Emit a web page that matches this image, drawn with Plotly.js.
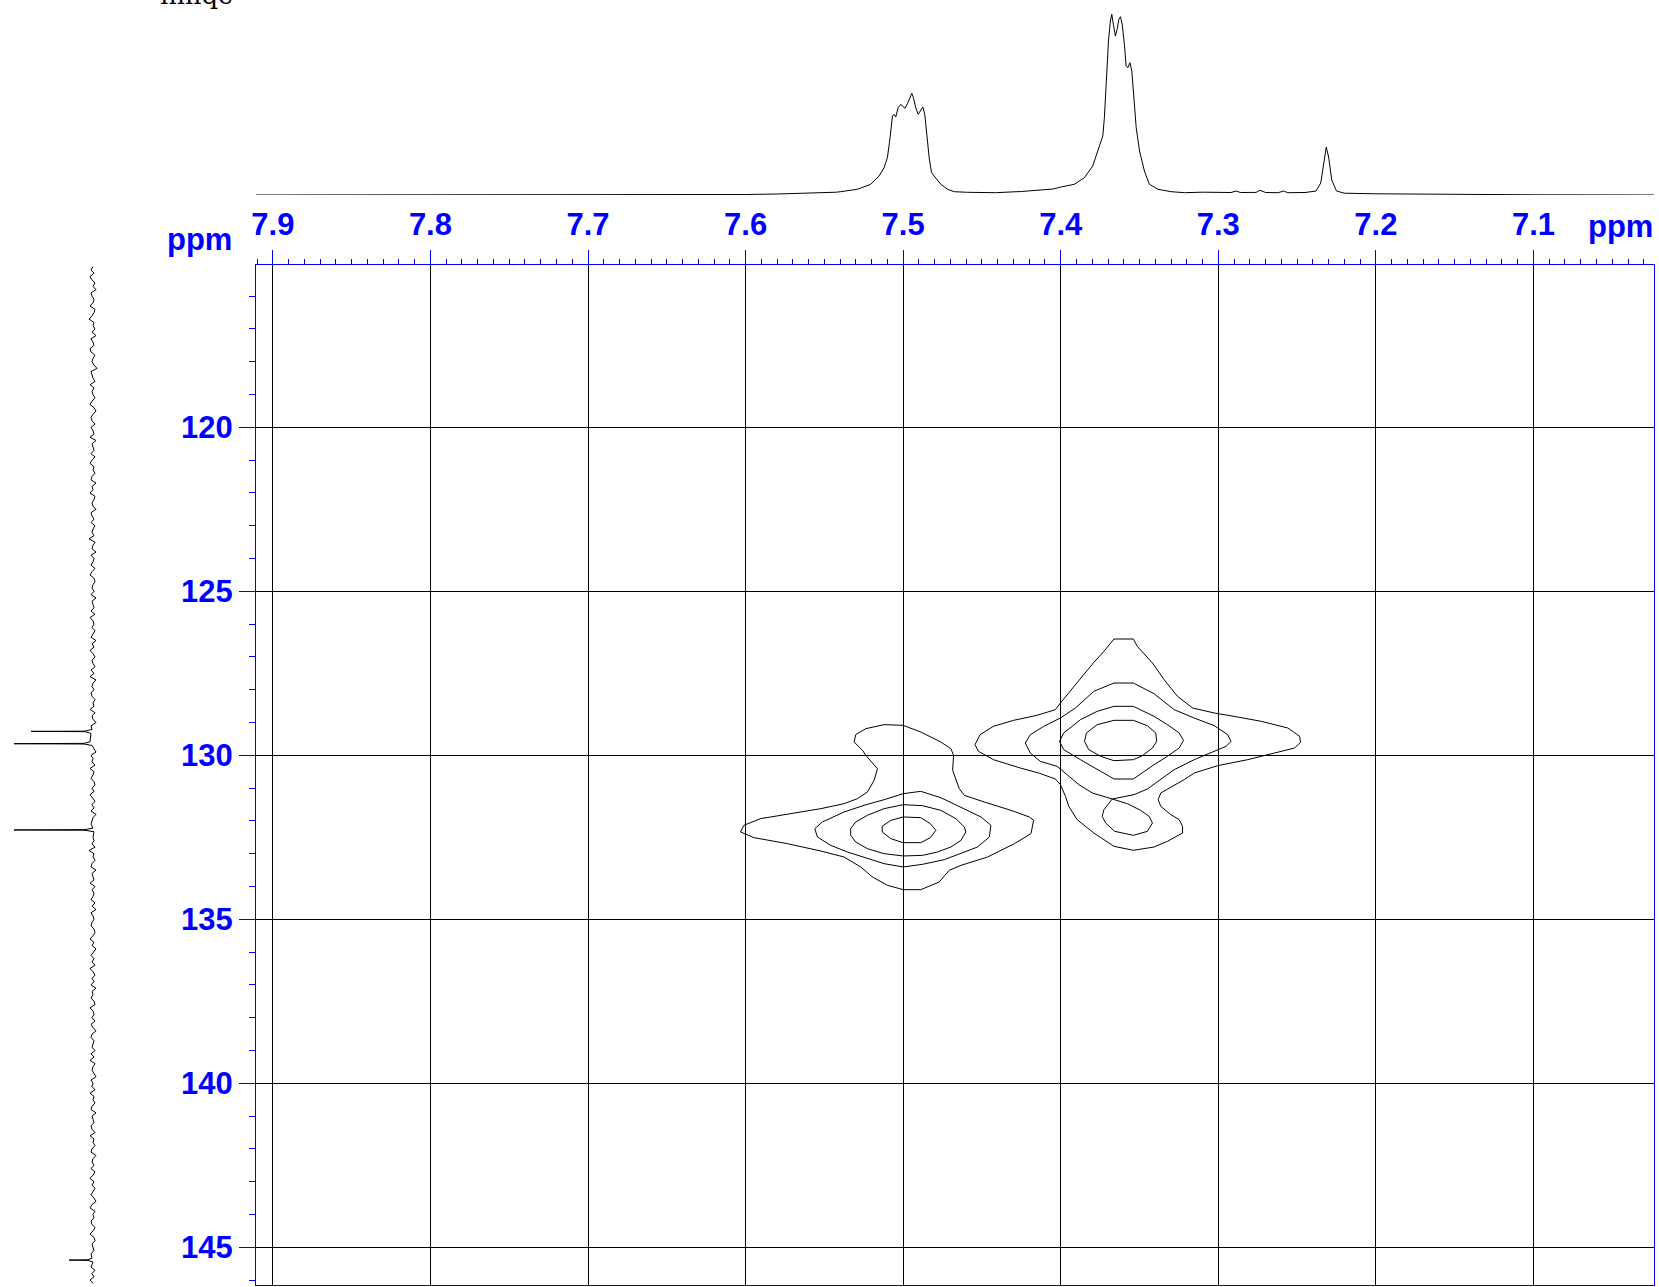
<!DOCTYPE html>
<html><head><meta charset="utf-8">
<script src="https://cdn.plot.ly/plotly-3.0.1.min.js"></script>
<style>html,body{margin:0;padding:0;background:#fff;overflow:hidden}</style>
</head><body><div id="chart" style="width:1659px;height:1287px"></div>
<script>
// ---- 1H projection (top): chemical shift (ppm) and intensity ----
const hPpm = [7.9107,7.85,7.71,7.65,7.60,7.58,7.5624,7.5423,7.5397,7.5291,7.5206,7.5153,7.5121,7.5100,7.5083,7.5068,7.5058,7.5047,7.5032,7.5015,7.5005,7.4988,7.4973,7.4958,7.4945,7.4935,7.4920,7.4905,7.4888,7.4875,7.4863,7.4850,7.4835,7.4820,7.4793,7.4761,7.4718,7.4676,7.4591,7.4507,7.4414,7.4250,7.4144,7.4050,7.3998,7.3914,7.3850,7.3797,7.3765,7.3733,7.3723,7.3712,7.3697,7.3685,7.3676,7.3666,7.3653,7.3642,7.3631,7.3621,7.3610,7.3596,7.3585,7.3574,7.3561,7.3549,7.3536,7.3521,7.3500,7.3469,7.3437,7.3383,7.3299,7.3214,7.31,7.30,7.292,7.2886,7.286,7.276,7.2736,7.27,7.262,7.2586,7.256,7.245,7.238,7.235,7.233,7.2315,7.230,7.228,7.225,7.22,7.20,7.15,7.10,7.0235];
const hInt = [-1,-1,-1,-0.8,-0.5,0,0.5,1.8,2.3,4.7,9.7,18,26.3,36.3,56.3,78,79.7,77,86.3,89.7,88,85.7,90.3,96.3,100.7,96.3,86.3,79.7,84.7,87,79.7,59.7,36.3,21.3,16.3,9.7,4.7,2.3,1.7,1.3,1.3,2.5,3.6,5,7,9.7,16.3,28,43,58,76.3,109.7,153,173,179.7,169.7,158,164.7,174.7,177.3,169.7,149.7,128,126.3,131.3,123,96.3,66.3,43,23,9.7,4.7,2.3,1.3,1.8,1.5,1.5,3,1.5,1.6,3.7,1.5,1.3,3,1.3,1.5,3,11,34,47,37,14,3,0.8,0.2,-0.4,-0.8,-1];

// ---- 13C projection (left): baseline noise on a regular ppm grid, plus peaks ----
const c13Start = 115.1, c13Step = 0.1;
const c13Noise = [0,2,-1,3,1,-2,0,-3,2,1,-1,0,3,-2,-1,1,4,-1,0,-2,
1,-3,2,0,-1,3,2,-2,0,1,-1,-4,2,1,0,-2,3,-1,1,0,
-2,1,3,-1,-3,0,2,1,-2,2,0,-1,3,-3,1,0,-1,2,-2,1,
3,-1,0,-2,1,2,-3,1,0,3,-2,-1,1,0,-3,2,1,-1,2,-2,
0,1,-1,4,-2,0,1,-3,2,-1,0,2,-2,1,3,-1,-2,0,1,-1,
2,-3,1,0,-1,2,-2,3,0,-1,1,-2,0,2,-3,1,-1,3,0,-2,
1,0,-2,2,-1,3,-3,0,1,-1,2,1,-2,0,-1,3,-2,1,0,-3,
2,1,-1,0,3,-2,1,-1,-3,2,0,1,-2,3,-1,0,2,-1,-2,1,
-1,3,0,-2,1,-1,2,-3,0,1,2,-2,-1,3,0,-1,1,-2,4,-1,
0,-2,1,2,-3,1,0,-1,3,-2,1,-1,0,2,-2,1,-3,2,0,-1,
1,2,-1,-2,0,3,-1,1,-3,0,2,-1,1,-2,3,0,-2,1,-1,2,
-3,1,0,2,-1,-2,3,0,-1,1,-2,2,0,-3,1,2,-1,0,1,-2,
2,-1,3,-2,0,1,-1,-3,2,0,1,-2,3,-1,0,-2,1,2,-3,1,
0,-1,2,1,-2,3,-1,0,-2,1,2,-3,0,1,-1,2,-2,0,3,-1,
1,-2,0,2,-1,-3,1,3,-2,0,-1,2,1,-2,0,3,-1,-2,1,0,
-1,2,-3,1,0,2,-2,1,-1,3,0];
const c13PeakPpm = [129.21,129.262,129.27,129.278,129.33, 129.59,129.635,129.645,129.655,129.70, 132.22,132.265,132.275,132.285,132.33, 145.33,145.38,145.39,145.40,145.45];
const c13PeakInt = [1,8,62,8,2, 3,9,79,9,1, 0,8,79,8,-1, 1,5,24,5,0];

// ---- 2D contours (x = 1H ppm, y = 13C ppm) ----
const peakA1H = [7.5000,7.5121,7.5237,7.5301,7.5311,7.5258,7.5237,7.5163,7.5184,7.5227,7.5290,7.5375,7.5523,7.5735,7.5905,7.6011,7.6032,7.5947,7.5735,7.5523,7.5375,7.5269,7.5195,7.5100,7.5000,7.4888,7.4771,7.4708,7.4633,7.4464,7.4294,7.4189,7.4172,7.4199,7.4316,7.4485,7.4612,7.4644,7.4686,7.4680,7.4697,7.4761,7.4888,7.5000];
const peakA1C = [129.085,129.065,129.187,129.370,129.593,129.848,130.0,130.407,130.762,131.118,131.321,131.474,131.626,131.799,131.931,132.134,132.337,132.510,132.693,132.917,133.100,133.404,133.709,133.963,134.096,134.096,133.862,133.506,133.354,133.100,132.693,132.388,131.982,131.880,131.677,131.423,131.220,131.016,130.457,130.0,129.797,129.593,129.289,129.085];
const peakA2H = [7.5000,7.4888,7.4761,7.4633,7.4506,7.4443,7.4453,7.4528,7.4633,7.4739,7.4877,7.5000,7.5121,7.5248,7.5354,7.5460,7.5544,7.5561,7.5513,7.5375,7.5248,7.5121,7.5000];
const peakA2C = [131.169,131.098,131.291,131.575,131.880,132.134,132.490,132.795,132.998,133.181,133.323,133.404,133.303,133.100,132.947,132.744,132.490,132.236,132.033,131.728,131.524,131.352,131.169];
const peakA3H = [7.5000,7.4877,7.4761,7.4665,7.4612,7.4602,7.4633,7.4697,7.4782,7.4877,7.5000,7.5121,7.5227,7.5301,7.5333,7.5333,7.5301,7.5227,7.5121,7.5000];
const peakA3C = [131.504,131.535,131.677,131.931,132.185,132.337,132.591,132.795,132.947,133.049,133.069,132.998,132.846,132.642,132.439,132.236,132.033,131.829,131.626,131.504];
const peakA4H = [7.5000,7.4888,7.4828,7.4792,7.4828,7.4888,7.5000,7.5078,7.5133,7.5133,7.5078,7.5000];
const peakA4C = [131.880,131.900,132.083,132.287,132.510,132.663,132.663,132.541,132.337,132.165,131.982,131.880];

const peakB1H = [7.3662,7.3539,7.3514,7.3418,7.3344,7.3259,7.3163,7.3025,7.2877,7.2728,7.2558,7.2484,7.2478,7.2516,7.2643,7.2813,7.3004,7.3153,7.3217,7.3365,7.3382,7.3365,7.3301,7.3248,7.3227,7.3227,7.3323,7.3408,7.3539,7.3662,7.3790,7.3896,7.3949,7.3970,7.4002,7.4034,7.4140,7.4257,7.4427,7.4522,7.4544,7.4512,7.4427,7.4299,7.4151,7.4034,7.4002,7.3917,7.3790,7.3726,7.3662];
const peakB1C = [126.453,126.453,126.677,127.185,127.693,128.201,128.557,128.709,128.831,128.963,129.167,129.421,129.604,129.776,129.929,130.132,130.315,130.539,130.742,131.148,131.352,131.555,131.809,131.961,132.165,132.368,132.622,132.795,132.896,132.774,132.368,131.961,131.555,131.250,130.894,130.722,130.539,130.386,130.132,129.878,129.675,129.370,129.116,128.933,128.780,128.608,128.404,127.896,127.165,126.829,126.453];
const peakB2H = [7.3662,7.3539,7.3408,7.3280,7.3153,7.3025,7.2941,7.2919,7.2951,7.3025,7.3153,7.3280,7.3365,7.3450,7.3535,7.3673,7.3800,7.3885,7.3960,7.4023,7.4130,7.4193,7.4225,7.4193,7.4108,7.4002,7.3907,7.3790,7.3662];
const peakB2C = [127.795,127.795,128.120,128.608,128.862,129.096,129.370,129.573,129.726,129.878,130.132,130.437,130.742,131.026,131.199,131.331,131.148,130.894,130.589,130.335,130.183,129.929,129.624,129.370,129.116,128.862,128.557,128.049,127.795];
const peakB2bH = [7.3673,7.3577,7.3493,7.3439,7.3418,7.3450,7.3539,7.3658,7.3715,7.3737,7.3726,7.3673];
const peakB2bC = [131.331,131.474,131.677,131.860,132.063,132.317,132.439,132.317,132.063,131.860,131.657,131.331];
const peakB3H = [7.3662,7.3539,7.3408,7.3323,7.3248,7.3221,7.3248,7.3323,7.3408,7.3539,7.3662,7.3769,7.3875,7.3981,7.4008,7.3981,7.3875,7.3769,7.3662];
const peakB3C = [128.506,128.506,128.811,129.065,129.319,129.543,129.776,130.030,130.285,130.722,130.722,130.437,130.132,129.827,129.573,129.319,128.913,128.659,128.506];
const peakB4H = [7.3662,7.3539,7.3450,7.3397,7.3391,7.3418,7.3482,7.3539,7.3662,7.3747,7.3822,7.3849,7.3837,7.3769,7.3662];
const peakB4C = [128.933,128.933,129.096,129.319,129.573,129.776,130.010,130.132,130.163,130.030,129.827,129.573,129.319,129.065,128.933];

// axis tick settings
const xMajor = 0.1, xMinor = 0.01, yMajor = 5, yMinor = 1;
const xRange = [7.9107, 7.0235], yRange = [146.15, 115.034];

// ---------------- build ----------------
const BLUE = '#0000ff';
const LBL = {family:'"Liberation Sans", Arial, Helvetica, sans-serif', size:31, color:BLUE, weight:'bold'};
const PW = 1654, PH = 1285; // paper size (after margins)
const px = x => x / PW, py = y => (PH - y) / PH;

const traces = [];
const contourSets = [[peakA1H,peakA1C],[peakA2H,peakA2C],[peakA3H,peakA3C],[peakA4H,peakA4C],
  [peakB1H,peakB1C],[peakB2H,peakB2C],[peakB2bH,peakB2bC],[peakB3H,peakB3C],[peakB4H,peakB4C]];
contourSets.forEach(([h,c]) => traces.push({type:'scatter', mode:'lines', x:h, y:c, xaxis:'x', yaxis:'y',
  line:{color:'#000', width:1}, hoverinfo:'skip'}));

traces.push({type:'scatter', mode:'lines', x:hPpm, y:hInt, xaxis:'x2', yaxis:'y2',
  line:{color:'#000', width:1}, hoverinfo:'skip'});

// 13C trace: merge noise grid with peaks
let pts = [];
c13Noise.forEach((v,i) => {
  const p = c13Start + i * c13Step;
  if (!c13PeakPpm.some(q => Math.abs(q - p) < 0.07)) pts.push([p, v]);
});
c13PeakPpm.forEach((p,i) => pts.push([p, c13PeakInt[i]]));
pts.sort((a,b) => a[0] - b[0]);
traces.push({type:'scatter', mode:'lines', x:pts.map(d=>d[1]), y:pts.map(d=>d[0]), xaxis:'x3', yaxis:'y3',
  line:{color:'#000', width:1}, hoverinfo:'skip'});

const mainYDomain = [0, py(264.5)];
const layout = {
  width:1659, height:1287,
  margin:{l:0, r:5, t:0, b:2, pad:0},
  paper_bgcolor:'#ffffff', plot_bgcolor:'rgba(0,0,0,0)',
  showlegend:false,
  xaxis:{domain:[px(256),1], range:xRange, side:'top', anchor:'y',
    showline:true, linecolor:BLUE, linewidth:1, mirror:true,
    ticks:'outside', ticklen:14, tickcolor:BLUE, tickwidth:1, ticklabelstandoff:2,
    tick0:0, dtick:xMajor, tickformat:'.1f', tickfont:LBL,
    showgrid:true, gridcolor:'#000', gridwidth:1, zeroline:false,
    minor:{dtick:xMinor, ticks:'outside', ticklen:5, tickcolor:BLUE, tickwidth:1, showgrid:false},
    fixedrange:true},
  yaxis:{domain:mainYDomain, range:yRange, anchor:'x', side:'left',
    showline:true, linecolor:BLUE, linewidth:1, mirror:true,
    ticks:'outside', ticklen:16, tickcolor:BLUE, tickwidth:1,
    tick0:0, dtick:yMajor, tickfont:LBL,
    showgrid:true, gridcolor:'#000', gridwidth:1, zeroline:false,
    minor:{dtick:yMinor, ticks:'outside', ticklen:6, tickcolor:BLUE, tickwidth:1, showgrid:false},
    fixedrange:true},
  xaxis2:{domain:[px(256),1], range:xRange, anchor:'y2', visible:false, fixedrange:true},
  yaxis2:{domain:[py(195),1], range:[-1,194], anchor:'x2', visible:false, fixedrange:true},
  xaxis3:{domain:[0, px(105)], range:[93,-12], anchor:'y3', visible:false, fixedrange:true},
  yaxis3:{domain:mainYDomain, range:yRange, anchor:'x3', visible:false, fixedrange:true},
  annotations:[
    {xref:'paper', yref:'paper', x:px(199.5), y:py(239), xanchor:'center', yanchor:'middle', showarrow:false,
     text:'ppm', font:LBL},
    {xref:'paper', yref:'paper', x:px(1620.5), y:py(226.5), xanchor:'center', yanchor:'middle', showarrow:false,
     text:'ppm', font:LBL},
    {xref:'paper', yref:'paper', x:px(158), y:py(12), xanchor:'left', yanchor:'bottom', showarrow:false,
     text:'hmqc', font:{family:'"DejaVu Serif", "Liberation Serif", serif', size:26, color:'#000'}}
  ]
};
Plotly.newPlot('chart', traces, layout, {displayModeBar:false, staticPlot:true});
</script></body></html>
